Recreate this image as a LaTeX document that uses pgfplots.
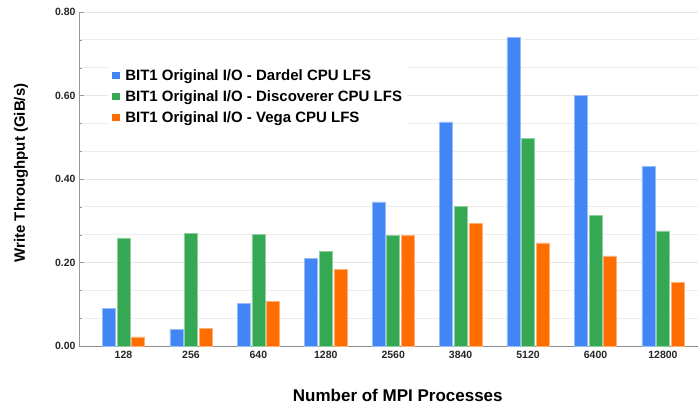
\documentclass[border=0pt]{standalone}
\usepackage{pgfplots}
\pgfplotsset{compat=1.18}
\usepackage{fontspec}
\setmainfont{Liberation Sans}

\definecolor{gblue}{HTML}{4285F4}
\definecolor{ggreen}{HTML}{34A853}
\definecolor{gorange}{HTML}{FF6D01}
\definecolor{gridc}{HTML}{E6E6E6}

\begin{document}
\begin{tikzpicture}
\begin{axis}[
    name=ax, at={(0,0)}, anchor=south west,
    scale only axis, width=619pt, height=334pt,
    ybar=1.6pt, bar width=13pt,
    xmin=-0.66, xmax=8.52,
    ymin=0, ymax=0.8,
    xtick=data,
    xticklabels={128,256,640,1280,2560,3840,5120,6400,12800},
    ytick={0,0.2,0.4,0.6,0.8},
    minor y tick num=2,
    yticklabel style={/pgf/number format/.cd, fixed, fixed zerofill, precision=2},
    /pgf/number format/assume math mode=true,
    tick label style={font=\fontsize{10.5}{12}\selectfont\bfseries, text=black!85},
    xticklabel style={yshift=-2pt},
    ymajorgrids, yminorgrids,
    major grid style={draw=gridc, line width=0.8pt},
    minor grid style={draw=gridc!70, line width=0.8pt},
    axis x line=bottom, axis y line=left,
    axis line style={-, draw=black!40, line width=0.8pt},
    x axis line style={draw=black!45, line width=1pt},
    xtick style={draw=none},
    ytick style={draw=black!40},
    tick align=inside, tick pos=left,
    major tick length=5pt, minor tick length=3pt,
    xlabel={Number of MPI Processes},
    ylabel={Write Throughput (GiB/s)},
    xlabel style={font=\fontsize{17}{19}\selectfont\bfseries,
        at={(axis description cs:0.515,0)}, anchor=center, yshift=-49pt},
    ylabel style={font=\fontsize{15}{17}\selectfont\bfseries,
        at={(axis description cs:-0.0937,0.518)}, anchor=center},
    legend style={at={(axis description cs:0.047,0.853)}, anchor=north west,
        draw=none, fill=white, font=\fontsize{15}{17}\selectfont\bfseries,
        inner xsep=4pt, inner ysep=6pt, row sep=4.7pt},
    legend cell align=left,
    legend image code/.code={%
        \fill[#1, draw=none] (0pt,-3.6pt) rectangle (7.3pt,3.6pt);
        \path[draw=none, fill=none] (0pt,0pt) -- (11pt,0pt);},
    enlarge x limits=false,
]
\addplot[fill=gblue, draw=gblue!55!white, line width=0.5pt] coordinates {
    (0,0.090) (1,0.040) (2,0.102) (3,0.210) (4,0.345)
    (5,0.537) (6,0.739) (7,0.600) (8,0.430)};
\addlegendentry{BIT1 Original I/O - Dardel CPU LFS}
\addplot[fill=ggreen, draw=ggreen!55!white, line width=0.5pt] coordinates {
    (0,0.259) (1,0.269) (2,0.268) (3,0.227) (4,0.265)
    (5,0.335) (6,0.497) (7,0.312) (8,0.276)};
\addlegendentry{BIT1 Original I/O - Discoverer CPU LFS}
\addplot[fill=gorange, draw=gorange!55!white, line width=0.5pt] coordinates {
    (0,0.022) (1,0.043) (2,0.107) (3,0.183) (4,0.265)
    (5,0.294) (6,0.247) (7,0.216) (8,0.153)};
\addlegendentry{BIT1 Original I/O - Vega CPU LFS}
\end{axis}
\pgfresetboundingbox
\path (-79pt,-62pt) rectangle (619pt,346pt);
\end{tikzpicture}
\end{document}
